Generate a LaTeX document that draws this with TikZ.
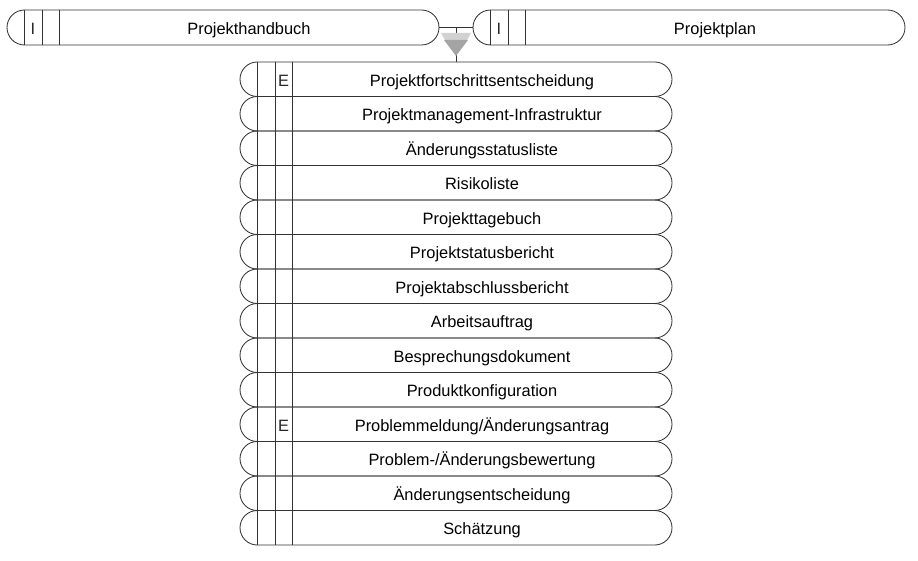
\documentclass[tikz,border=0pt]{standalone}
\usepackage{fontspec}
\setmainfont{Liberation Sans}
\usetikzlibrary{shapes.misc,calc}
\definecolor{edge}{HTML}{333333}
\definecolor{funnellight}{HTML}{D2D2D2}
\definecolor{funneldark}{HTML}{A4A4A4}
\begin{document}
\begin{tikzpicture}[x=1pt,y=-1pt,
  item/.style={rounded rectangle, draw=edge, line width=0.85pt,
    minimum width=432pt, minimum height=34.5pt, inner sep=0pt, outer sep=0pt},
  caption/.style={font=\fontsize{16.4}{19}\selectfont, inner sep=0pt, text=black, anchor=base},
  mark letter/.style={font=\fontsize{16.4}{19}\selectfont, inner sep=0pt, text=black!85, anchor=base},
  cell/.style={draw=edge, line width=0.85pt},
  link/.style={draw=edge, line width=0.85pt}
]
\useasboundingbox (0,0) rectangle (918,561);

% cell dividers of one stadium-shaped entry
\newcommand{\entrycells}[1]{%
  \foreach \dx in {-198.75,-181,-164}
    \draw[cell] ([xshift=\dx pt,yshift=17.25pt]#1.center) -- ([xshift=\dx pt,yshift=-17.25pt]#1.center);
}

% top pair
\node[item, minimum height=35pt] (hb) at (223,27.5) {};
\node[item, minimum height=35pt] (pp) at (689,27.5) {};
\entrycells{hb}
\entrycells{pp}
\node[caption] (hbt) at ([xshift=26pt,yshift=-6.7pt]hb.center) {Projekthandbuch};
\node[caption] (ppt) at ([xshift=26pt,yshift=-6.7pt]pp.center) {Projektplan};
\node[mark letter] (hbi) at ([xshift=-190pt,yshift=-6.7pt]hb.center) {I};
\node[mark letter] (ppi) at ([xshift=-190pt,yshift=-6.7pt]pp.center) {I};

% list of products
\foreach \name [count=\i] in {Projektfortschrittsentscheidung,
    Projektmanagement-Infrastruktur, Änderungsstatusliste, Risikoliste,
    Projekttagebuch, Projektstatusbericht, Projektabschlussbericht,
    Arbeitsauftrag, Besprechungsdokument, Produktkonfiguration,
    Problemmeldung/Änderungsantrag, Problem-/Änderungsbewertung,
    Änderungsentscheidung, Schätzung}{
  \node[item] (r\i) at (456,{79.25+34.5*(\i-1)}) {};
  \entrycells{r\i}
  \node[caption] (r\i t) at ([xshift=26pt,yshift=-7pt]r\i.center) {\name};
}
\node[mark letter] (r1e) at ([xshift=-172.5pt,yshift=-7pt]r1.center) {E};
\node[mark letter] (r11e) at ([xshift=-172.5pt,yshift=-7pt]r11.center) {E};

% junction between the top pair and the list
\coordinate (j) at ($(hb.east)!0.5!(pp.west)$);
\draw[link] (hb.east) -- (pp.west);
\draw[link] (j) -- (j |- r1.north);
\fill[funnellight] ($(j)+(-15,5.5)$) -- ($(j)+(15,5.5)$) -- ($(j)+(11,12.5)$) -- ($(j)+(-11,12.5)$) -- cycle;
\fill[funneldark] ($(j)+(-12,12.5)$) -- ($(j)+(12,12.5)$) -- ($(j)+(0,28.5)$) -- cycle;
\end{tikzpicture}
\end{document}
